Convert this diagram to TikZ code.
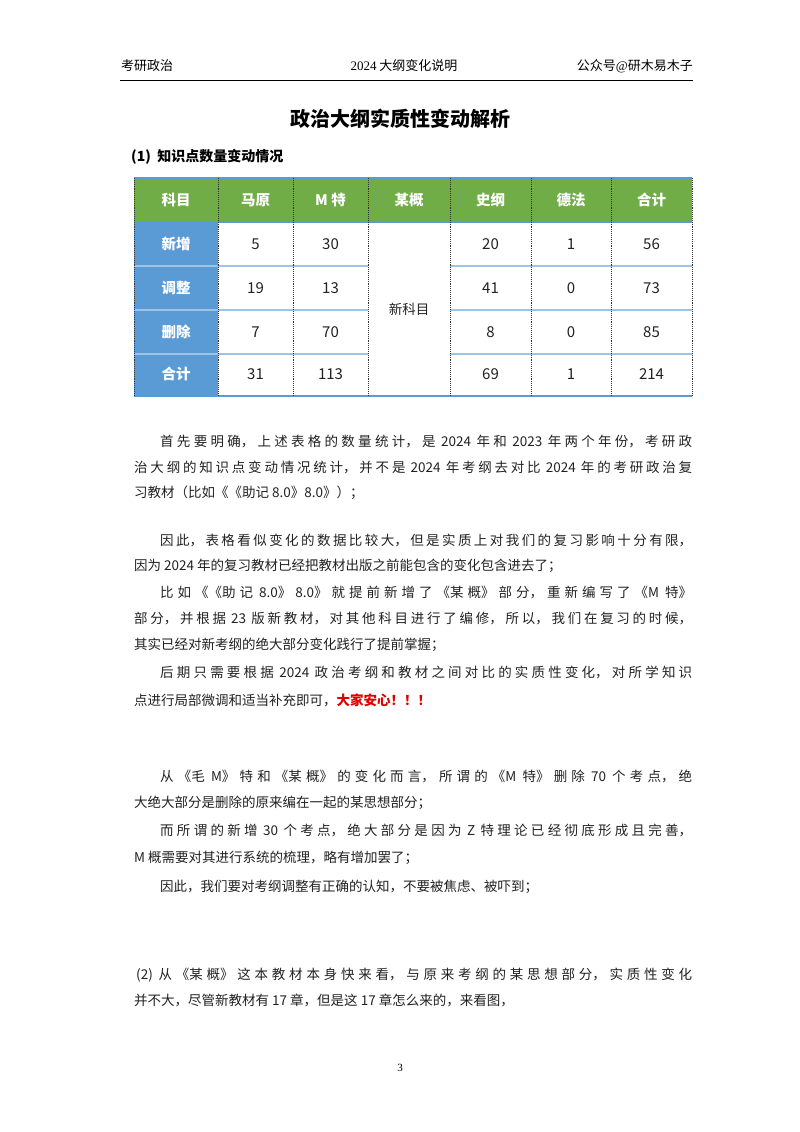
\documentclass[tikz,border=0pt]{standalone}
\usepackage{fontspec}
\setmainfont{Noto Sans CJK SC}
\newfontfamily\serifcjk{Noto Sans CJK SC}
\newfontfamily\lat{Liberation Serif}
\XeTeXlinebreaklocale "zh"
\XeTeXlinebreakskip=0pt plus 2pt
\definecolor{hgreen}{HTML}{70AD47}
\definecolor{hblue}{HTML}{5B9BD5}
\definecolor{lblue}{HTML}{9DC3E6}
\definecolor{txt}{HTML}{222222}
\definecolor{myred}{HTML}{E00000}
\newcommand{\fulline}[2]{\parbox{#1}{\parfillskip=0pt\noindent #2}}
\tikzset{
  body/.style={anchor=west,inner sep=0pt,font=\fontsize{13.5}{16}\selectfont,text=txt},
  hd/.style={text=white,font=\fontsize{14.5}{16}\selectfont\bfseries},
  num/.style={text=txt,font=\fontsize{15}{16}\selectfont},
  vdot/.style={densely dotted,line width=0.9pt,black!80},
  hline/.style={lblue,line width=1.2pt},
}
\begin{document}
\begin{tikzpicture}[x=1pt,y=-1pt]
\useasboundingbox[fill=white] (0,0) rectangle (800,1132);
% header
\node[anchor=west,inner sep=0pt,font=\fontsize{13}{15}\selectfont] (hl) at (121,66) {考研政治};
\node[inner sep=0pt,font=\fontsize{13}{15}\selectfont] (hc) at (404,66) {{\lat 2024} 大纲变化说明};
\node[anchor=east,inner sep=0pt,font=\fontsize{13}{15}\selectfont] (hr) at (693,66) {公众号{\lat @}研木易木子};
\draw[line width=0.8pt] (120,80) -- (693,80);
\node[font=\fontsize{20}{22}\selectfont\bfseries] (title) at (400,119) {政治大纲实质性变动解析};
\node[anchor=west,inner sep=0pt,font=\fontsize{14}{16}\selectfont\bfseries] (sec1) at (131,157) {(1)\ \ 知识点数量变动情况};
% table
\fill[hgreen] (134,178) rectangle (692,222);
\fill[hblue] (134,222) rectangle (218,396);
\foreach \y in {266,310,354} {
  \draw[hline] (134,\y) -- (368,\y);
  \draw[hline] (450,\y) -- (692,\y);
}
\draw[hline,hblue] (134,178) -- (692,178);
\draw[hline,hblue] (134,222) -- (692,222);
\draw[hblue,line width=1.6pt] (134,396) -- (692,396);
\foreach \x in {134,218,293,368,450,531,611,692} \draw[vdot] (\x,178) -- (\x,396);
% header row
\foreach \t [count=\i] in {科目,马原,M 特,某概,史纲,德法,合计} {
  \pgfmathsetmacro{\cx}{{0,176,255.5,330.5,409,490.5,571,651.5}[\i]}
  \node[hd] (h\i) at (\cx,200) {\t};
}
\node[hd] (r1) at (176,244) {新增};
\node[hd] (r2) at (176,288) {调整};
\node[hd] (r3) at (176,332) {删除};
\node[hd] (r4) at (176,374) {合计};
\node[text=txt,font=\fontsize{13.5}{16}\selectfont] (xk) at (409,309) {新科目};
\foreach \a/\b/\c/\d/\e [count=\j] in {5/30/20/1/56,19/13/41/0/73,7/70/8/0/85,31/113/69/1/214} {
  \pgfmathsetmacro{\ry}{{0,244,288,332,374}[\j]}
  \node[num] at (255.5,\ry) {\a};
  \node[num] at (330.5,\ry) {\b};
  \node[num] at (490.5,\ry) {\c};
  \node[num] at (571,\ry) {\d};
  \node[num] at (651.5,\ry) {\e};
}
% body text
\node[body] (p1a) at (160,442) {\fulline{532pt}{首先要明确，上述表格的数量统计，是 2024 年和 2023 年两个年份，考研政}};
\node[body] (p1b) at (134,467) {\fulline{558pt}{治大纲的知识点变动情况统计，并不是 2024 年考纲去对比 2024 年的考研政治复}};
\node[body] (p1c) at (134,493) {习教材（比如《《助记 8.0》8.0》）；};
\node[body] (p2a) at (160,540) {\fulline{532pt}{因此，表格看似变化的数据比较大，但是实质上对我们的复习影响十分有限，}};
\node[body] (p2b) at (134,566) {因为 2024 年的复习教材已经把教材出版之前能包含的变化包含进去了；};
\node[body] (p3a) at (160,593) {\fulline{532pt}{比如《《助记 8.0》8.0》就提前新增了《某概》部分，重新编写了《M 特》}};
\node[body] (p3b) at (134,619) {\fulline{558pt}{部分，并根据 23 版新教材，对其他科目进行了编修，所以，我们在复习的时候，}};
\node[body] (p3c) at (134,645) {其实已经对新考纲的绝大部分变化践行了提前掌握；};
\node[body] (p4a) at (160,672) {\fulline{532pt}{后期只需要根据 2024 政治考纲和教材之间对比的实质性变化，对所学知识}};
\node[body] (p4b) at (134,700) {点进行局部微调和适当补充即可，{\color{myred}\bfseries 大家安心！！！}};
\node[body] (p5a) at (160,776) {\fulline{532pt}{从《毛 M》特和《某概》的变化而言，所谓的《M 特》删除 70 个考点，绝}};
\node[body] (p5b) at (134,803) {大绝大部分是删除的原来编在一起的某思想部分；};
\node[body] (p6a) at (160,830) {\fulline{532pt}{而所谓的新增 30 个考点，绝大部分是因为 Z 特理论已经彻底形成且完善，}};
\node[body] (p6b) at (134,858) {M 概需要对其进行系统的梳理，略有增加罢了；};
\node[body] (p7a) at (160,887) {因此，我们要对考纲调整有正确的认知，不要被焦虑、被吓到；};
\node[body] (p8a) at (136,975) {\fulline{556pt}{(2) 从《某概》这本教材本身快来看，与原来考纲的某思想部分，实质性变化}};
\node[body] (p8b) at (134,1000) {并不大，尽管新教材有 17 章，但是这 17 章怎么来的，来看图，};
\node[font=\lat\fontsize{11}{13}\selectfont] (pg) at (400,1068) {3};
\end{tikzpicture}
\end{document}
